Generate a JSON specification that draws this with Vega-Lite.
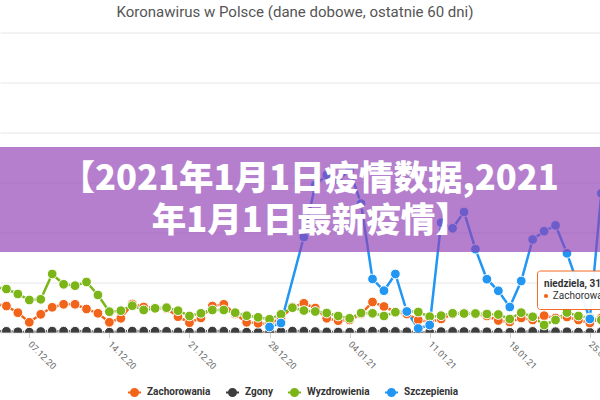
{
  "$schema": "https://vega.github.io/schema/vega-lite/v6.json",
  "width": 600,
  "height": 300,
  "autosize": "none",
  "padding": {"top": 32.5, "left": 0, "right": 0, "bottom": 67.5},
  "background": "white",
  "config": {"view": {"stroke": null}, "font": "Roboto"},
  "title": {"text": "Koronawirus w Polsce (dane dobowe, ostatnie 60 dni)", "fontSize": 15, "fontWeight": "normal", "color": "#555555", "font": "Roboto", "anchor": "middle", "offset": 13, "dx": -5},
  "datasets": {
    "series": [
      {"d": "2020-12-03", "Zachorowania": 11800, "Zgony": 520, "Wyzdrowienia": 17000, "Szczepienia": null},
      {"d": "2020-12-04", "Zachorowania": 11400, "Zgony": 560, "Wyzdrowienia": 18200, "Szczepienia": null},
      {"d": "2020-12-05", "Zachorowania": 10600, "Zgony": 480, "Wyzdrowienia": 17400, "Szczepienia": null},
      {"d": "2020-12-06", "Zachorowania": 7920, "Zgony": 300, "Wyzdrowienia": 15400, "Szczepienia": null},
      {"d": "2020-12-07", "Zachorowania": 4080, "Zgony": 140, "Wyzdrowienia": 13000, "Szczepienia": null},
      {"d": "2020-12-08", "Zachorowania": 7280, "Zgony": 390, "Wyzdrowienia": 13280, "Szczepienia": null},
      {"d": "2020-12-09", "Zachorowania": 10080, "Zgony": 540, "Wyzdrowienia": 23400, "Szczepienia": null},
      {"d": "2020-12-10", "Zachorowania": 11280, "Zgony": 520, "Wyzdrowienia": 19280, "Szczepienia": null},
      {"d": "2020-12-11", "Zachorowania": 11280, "Zgony": 510, "Wyzdrowienia": 18720, "Szczepienia": null},
      {"d": "2020-12-12", "Zachorowania": 9400, "Zgony": 500, "Wyzdrowienia": 20200, "Szczepienia": null},
      {"d": "2020-12-13", "Zachorowania": 7680, "Zgony": 250, "Wyzdrowienia": 15000, "Szczepienia": null},
      {"d": "2020-12-14", "Zachorowania": 4080, "Zgony": 110, "Wyzdrowienia": 8320, "Szczepienia": null},
      {"d": "2020-12-15", "Zachorowania": 5680, "Zgony": 450, "Wyzdrowienia": 8720, "Szczepienia": null},
      {"d": "2020-12-16", "Zachorowania": 11400, "Zgony": 560, "Wyzdrowienia": 10720, "Szczepienia": null},
      {"d": "2020-12-17", "Zachorowania": 10200, "Zgony": 520, "Wyzdrowienia": 9000, "Szczepienia": null},
      {"d": "2020-12-18", "Zachorowania": 9800, "Zgony": 490, "Wyzdrowienia": 9680, "Szczepienia": null},
      {"d": "2020-12-19", "Zachorowania": 9600, "Zgony": 460, "Wyzdrowienia": 9920, "Szczepienia": null},
      {"d": "2020-12-20", "Zachorowania": 6320, "Zgony": 270, "Wyzdrowienia": 8720, "Szczepienia": null},
      {"d": "2020-12-21", "Zachorowania": 3920, "Zgony": 130, "Wyzdrowienia": 6600, "Szczepienia": null},
      {"d": "2020-12-22", "Zachorowania": 5800, "Zgony": 440, "Wyzdrowienia": 7680, "Szczepienia": null},
      {"d": "2020-12-23", "Zachorowania": 10600, "Zgony": 570, "Wyzdrowienia": 9000, "Szczepienia": null},
      {"d": "2020-12-24", "Zachorowania": 11280, "Zgony": 510, "Wyzdrowienia": 9000, "Szczepienia": null},
      {"d": "2020-12-25", "Zachorowania": 7400, "Zgony": 300, "Wyzdrowienia": 7920, "Szczepienia": null},
      {"d": "2020-12-26", "Zachorowania": 4080, "Zgony": 140, "Wyzdrowienia": 6720, "Szczepienia": null},
      {"d": "2020-12-27", "Zachorowania": 3680, "Zgony": 90, "Wyzdrowienia": 6080, "Szczepienia": null},
      {"d": "2020-12-28", "Zachorowania": 3400, "Zgony": 70, "Wyzdrowienia": 5280, "Szczepienia": 2200},
      {"d": "2020-12-29", "Zachorowania": 5800, "Zgony": 330, "Wyzdrowienia": 7280, "Szczepienia": 3800},
      {"d": "2020-12-30", "Zachorowania": 10200, "Zgony": 560, "Wyzdrowienia": 9920, "Szczepienia": null},
      {"d": "2020-12-31", "Zachorowania": 11680, "Zgony": 520, "Wyzdrowienia": 8800, "Szczepienia": 38200},
      {"d": "2021-01-01", "Zachorowania": 9800, "Zgony": 380, "Wyzdrowienia": 8400, "Szczepienia": 59000},
      {"d": "2021-01-02", "Zachorowania": 5680, "Zgony": 230, "Wyzdrowienia": 7800, "Szczepienia": 63000},
      {"d": "2021-01-03", "Zachorowania": 4720, "Zgony": 180, "Wyzdrowienia": 6600, "Szczepienia": 61000},
      {"d": "2021-01-04", "Zachorowania": 5000, "Zgony": 120, "Wyzdrowienia": 5680, "Szczepienia": 65000},
      {"d": "2021-01-05", "Zachorowania": 7400, "Zgony": 330, "Wyzdrowienia": 7800, "Szczepienia": 51600},
      {"d": "2021-01-06", "Zachorowania": 12200, "Zgony": 520, "Wyzdrowienia": 7680, "Szczepienia": 21400},
      {"d": "2021-01-07", "Zachorowania": 10400, "Zgony": 460, "Wyzdrowienia": 6600, "Szczepienia": 16720},
      {"d": "2021-01-08", "Zachorowania": 8200, "Zgony": 420, "Wyzdrowienia": 8120, "Szczepienia": 23400},
      {"d": "2021-01-09", "Zachorowania": 7400, "Zgony": 310, "Wyzdrowienia": 8600, "Szczepienia": 8400},
      {"d": "2021-01-10", "Zachorowania": 5000, "Zgony": 110, "Wyzdrowienia": 8200, "Szczepienia": 1600},
      {"d": "2021-01-11", "Zachorowania": 4200, "Zgony": 90, "Wyzdrowienia": 6320, "Szczepienia": 3000},
      {"d": "2021-01-12", "Zachorowania": 5400, "Zgony": 350, "Wyzdrowienia": 6720, "Szczepienia": 43920},
      {"d": "2021-01-13", "Zachorowania": 7400, "Zgony": 420, "Wyzdrowienia": 7680, "Szczepienia": 41680},
      {"d": "2021-01-14", "Zachorowania": 7800, "Zgony": 380, "Wyzdrowienia": 7600, "Szczepienia": 48200},
      {"d": "2021-01-15", "Zachorowania": 7400, "Zgony": 360, "Wyzdrowienia": 7600, "Szczepienia": 33320},
      {"d": "2021-01-16", "Zachorowania": 6600, "Zgony": 300, "Wyzdrowienia": 7400, "Szczepienia": 21320},
      {"d": "2021-01-17", "Zachorowania": 4800, "Zgony": 130, "Wyzdrowienia": 7200, "Szczepienia": 16680},
      {"d": "2021-01-18", "Zachorowania": 4200, "Zgony": 80, "Wyzdrowienia": 5400, "Szczepienia": 10200},
      {"d": "2021-01-19", "Zachorowania": 5800, "Zgony": 330, "Wyzdrowienia": 7920, "Szczepienia": 20600},
      {"d": "2021-01-20", "Zachorowania": 5000, "Zgony": 420, "Wyzdrowienia": 6300, "Szczepienia": 37200},
      {"d": "2021-01-21", "Zachorowania": 6720, "Zgony": 340, "Wyzdrowienia": 3000, "Szczepienia": 40520},
      {"d": "2021-01-22", "Zachorowania": 5800, "Zgony": 320, "Wyzdrowienia": 5000, "Szczepienia": 42840},
      {"d": "2021-01-23", "Zachorowania": 6200, "Zgony": 300, "Wyzdrowienia": 8000, "Szczepienia": 31680},
      {"d": "2021-01-24", "Zachorowania": 5000, "Zgony": 140, "Wyzdrowienia": 6600, "Szczepienia": 18600},
      {"d": "2021-01-25", "Zachorowania": 3800, "Zgony": 80, "Wyzdrowienia": 5800, "Szczepienia": 5400},
      {"d": "2021-01-26", "Zachorowania": 5800, "Zgony": 300, "Wyzdrowienia": 5000, "Szczepienia": 55680}
    ],
    "banner": [{"top": 74200, "bottom": 32200}],
    "bannerText": [
      {"d": "2020-12-31T12:00:00Z", "v": 61200, "t": "【2021年1月1日疫情数据,2021"},
      {"d": "2020-12-31T14:30:00Z", "v": 44200, "t": "年1月1日最新疫情】"}
    ],
    "tipBox": [{"from": "2021-01-20T10:05:00Z", "to": "2021-02-03T00:00:00Z", "top": 24600, "bottom": 9200}],
    "tipTitle": [{"d": "2021-01-21T00:00:00Z", "v": 19600, "t": "niedziela, 31 stycznia 2021"}],
    "tipDot": [{"d": "2021-01-21T04:00:00Z", "v": 14600}],
    "tipLine": [{"d": "2021-01-21T18:15:00Z", "v": 14600, "t": "Zachorowania: 5864"}]
  },
  "layer": [
    {
      "data": {"name": "series"},
      "transform": [
        {"fold": ["Zachorowania", "Zgony", "Wyzdrowienia", "Szczepienia"], "as": ["key", "value"]},
        {"filter": "datum.value != null"}
      ],
      "mark": {"type": "line", "strokeWidth": 2.5, "clip": true},
      "encoding": {
        "x": {"field": "d", "type": "temporal",
          "scale": {"type": "utc", "domain": ["2020-12-04T10:32:00Z", "2021-01-25T21:16:00Z"]},
          "axis": {"values": [
              {"year": 2020, "month": 12, "date": 7, "utc": true},
              {"year": 2020, "month": 12, "date": 14, "utc": true},
              {"year": 2020, "month": 12, "date": 21, "utc": true},
              {"year": 2020, "month": 12, "date": 28, "utc": true},
              {"year": 2021, "month": 1, "date": 4, "utc": true},
              {"year": 2021, "month": 1, "date": 11, "utc": true},
              {"year": 2021, "month": 1, "date": 18, "utc": true},
              {"year": 2021, "month": 1, "date": 25, "utc": true}],
            "format": "%d.%m.%y", "labelAngle": 45, "labelAlign": "left", "labelBaseline": "middle",
            "labelFontSize": 9, "labelColor": "#666666", "labelFont": "Roboto", "labelPadding": 5,
            "labelOverlap": false, "labelFlush": false, "domain": false, "ticks": true, "tickColor": "#cccccc",
            "tickSize": 5, "grid": false, "title": null}},
        "y": {"field": "value", "type": "quantitative",
          "scale": {"domain": [0, 120000], "nice": false},
          "axis": {"values": [0, 20000, 40000, 60000, 80000, 100000, 120000], "labels": false, "ticks": false,
            "domain": false, "title": null, "grid": true, "gridColor": "#e6e6e6", "gridWidth": 1}},
        "color": {"field": "key", "type": "nominal",
          "scale": {"domain": ["Zachorowania", "Zgony", "Wyzdrowienia", "Szczepienia"],
            "range": ["#F26419", "#3D3D3D", "#7CB518", "#2196F3"]},
          "legend": {"orient": "none", "legendX": 127, "legendY": 352, "direction": "horizontal", "title": null,
            "labelFont": "Roboto", "labelFontSize": 10, "labelFontWeight": "bold", "labelColor": "#333333",
            "symbolType": "M-1,0H-0.55M0.55,0H1M0.55,0A0.55,0.55,0,1,1,-0.55,0A0.55,0.55,0,1,1,0.55,0Z",
            "symbolSize": 169, "symbolStrokeWidth": 2, "labelOffset": 5, "columnPadding": 11,
            "encode": {"symbols": {"update": {
              "fill": {"scale": "color", "field": "value"},
              "stroke": {"scale": "color", "field": "value"},
              "strokeWidth": {"value": 2},
              "opacity": {"value": 1}}}}}}
      }
    },
    {
      "data": {"name": "series"},
      "transform": [
        {"fold": ["Zachorowania", "Zgony", "Wyzdrowienia", "Szczepienia"], "as": ["key", "value"]},
        {"filter": "datum.value != null"}
      ],
      "mark": {"type": "circle", "size": 95, "opacity": 1, "stroke": "white", "strokeWidth": 1, "clip": true},
      "encoding": {
        "x": {"field": "d", "type": "temporal"},
        "y": {"field": "value", "type": "quantitative"},
        "order": {"field": "key", "sort": "descending"},
        "color": {"field": "key", "type": "nominal"}
      }
    },
    {
      "data": {"name": "banner"},
      "mark": {"type": "rect", "color": "#9243B7", "opacity": 0.68},
      "encoding": {
        "y": {"field": "top", "type": "quantitative"},
        "y2": {"field": "bottom"}
      }
    },
    {
      "data": {"name": "bannerText"},
      "mark": {"type": "text", "font": "Noto Sans CJK SC", "fontSize": 34.5, "fontWeight": 900, "color": "white", "align": "center", "baseline": "middle"},
      "encoding": {
        "x": {"field": "d", "type": "temporal"},
        "y": {"field": "v", "type": "quantitative"},
        "text": {"field": "t"}
      }
    },
    {
      "data": {"name": "tipBox"},
      "mark": {"type": "rect", "fill": "white", "stroke": "#F26419", "strokeWidth": 1, "cornerRadius": 3, "clip": true, "opacity": 0.95},
      "encoding": {
        "x": {"field": "from", "type": "temporal"},
        "x2": {"field": "to"},
        "y": {"field": "top", "type": "quantitative"},
        "y2": {"field": "bottom"}
      }
    },
    {
      "data": {"name": "tipTitle"},
      "mark": {"type": "text", "font": "Roboto", "fontSize": 10, "fontWeight": "bold", "color": "#333333", "align": "left", "baseline": "middle", "clip": true},
      "encoding": {
        "x": {"field": "d", "type": "temporal"},
        "y": {"field": "v", "type": "quantitative"},
        "text": {"field": "t"}
      }
    },
    {
      "data": {"name": "tipDot"},
      "mark": {"type": "circle", "size": 18, "color": "#F26419", "opacity": 1, "clip": true},
      "encoding": {
        "x": {"field": "d", "type": "temporal"},
        "y": {"field": "v", "type": "quantitative"}
      }
    },
    {
      "data": {"name": "tipLine"},
      "mark": {"type": "text", "font": "Roboto", "fontSize": 10, "color": "#333333", "align": "left", "baseline": "middle", "clip": true},
      "encoding": {
        "x": {"field": "d", "type": "temporal"},
        "y": {"field": "v", "type": "quantitative"},
        "text": {"field": "t"}
      }
    }
  ]
}
